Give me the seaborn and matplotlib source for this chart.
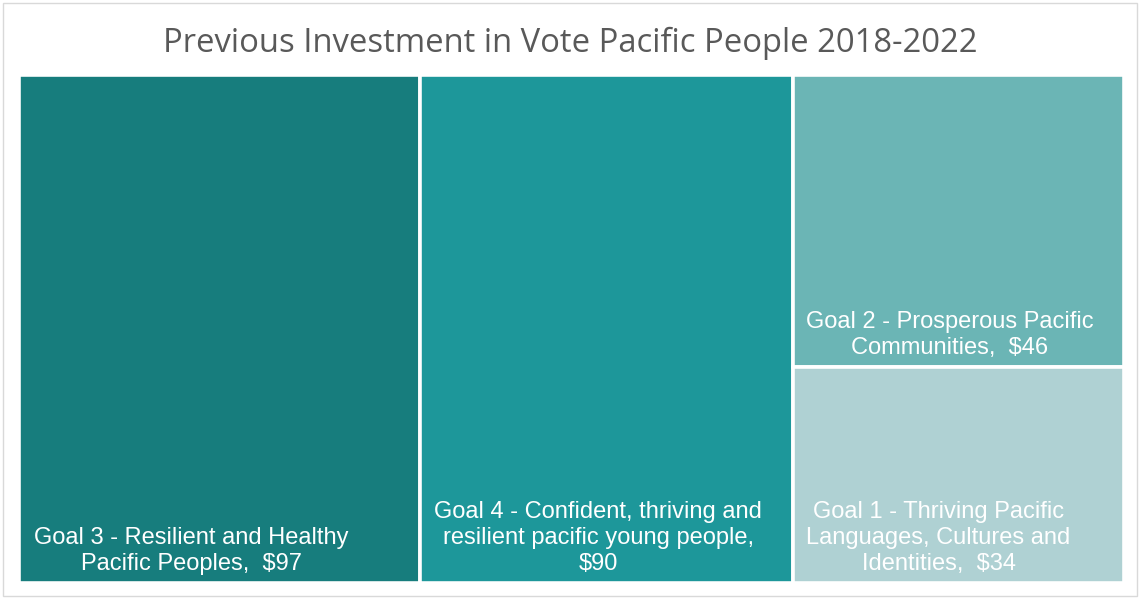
import numpy as np
import matplotlib
matplotlib.use("Agg")
import matplotlib.pyplot as plt
import seaborn as sns
from matplotlib.patches import Rectangle

# data
goals = ["Goal 3 - Resilient and Healthy\nPacific Peoples,  $97",
         "Goal 4 - Confident, thriving and\nresilient pacific young people,\n$90",
         "Goal 2 - Prosperous Pacific\nCommunities,  $46",
         "Goal 1 - Thriving Pacific\nLanguages, Cultures and\nIdentities,  $34"]
values = [97, 90, 46, 34]
colors = ["#177D7D", "#1D979A", "#6BB5B5", "#AFD1D3"]
label_fx = [0.43, 0.477, 0.474, 0.44]

sns.set_theme(style="white")
plt.rcParams['font.family'] = ['Liberation Sans', 'DejaVu Sans']

fig = plt.figure(figsize=(11.4, 5.99), dpi=100)
ax = fig.add_axes([19/1140, 16/599, 1105/1140, 508/599])

total = sum(values)
# treemap layout: first two as full columns, last two stacked in remaining column
rest = values[2] + values[3]
rects = []
x = 0
for v in values[:2]:
    rects.append((x, 0, v, 1))
    x += v
h2 = values[2] / rest
rects.append((x, 1 - h2, rest, h2))
rects.append((x, 0, rest, 1 - h2))

for (x0, y0, w, h), c, lab, fx in zip(rects, colors, goals, label_fx):
    ax.bar(x0, h, width=w, bottom=y0, align='edge', color=c,
           edgecolor='white', linewidth=2.6)
    ax.annotate(lab, (x0 + w * fx, y0), xytext=(0, 6), textcoords='offset points',
                ha='center', va='bottom', multialignment='center',
                color='white', fontsize=17, linespacing=1.22)

ax.set_xlim(0, total)
ax.set_ylim(0, 1)
ax.axis('off')

fig.text(0.5, 1 - 43/599, "Previous Investment in Vote Pacific People 2018-2022",
         ha='center', va='center', fontsize=23.6, color='#595959', family=['Open Sans', 'DejaVu Sans'])

fig.patches.append(Rectangle((3/1140, 3/599), 1134/1140, 593/599, transform=fig.transFigure,
                             fill=False, edgecolor='#D9D9D9', linewidth=1))

fig.savefig("out.png", dpi=100)
